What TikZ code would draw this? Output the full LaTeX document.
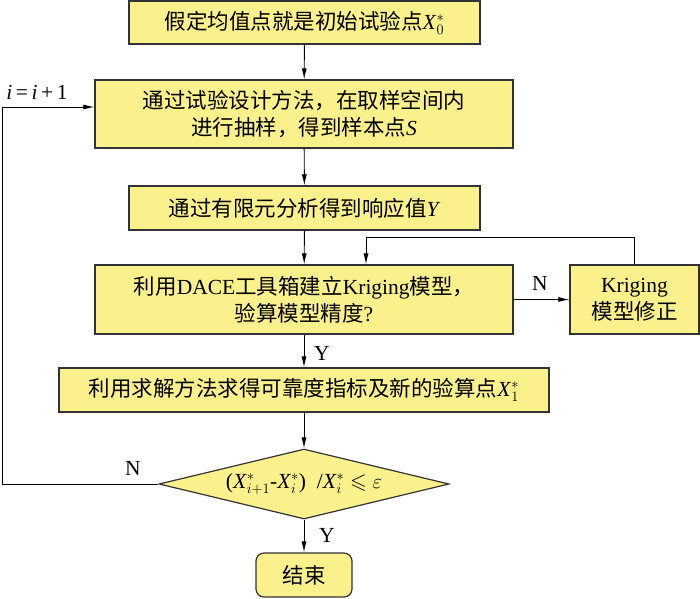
\documentclass[tikz,border=0pt]{standalone}
\usepackage{fontspec}
\usepackage{amssymb}
\setmainfont{Liberation Serif}
\newfontfamily\cjk{Noto Sans CJK SC}
\usetikzlibrary{shapes.geometric,arrows.meta}
\definecolor{boxyellow}{RGB}{250,240,140}
\newcommand{\zh}[1]{{\cjk #1}}
\begin{document}
\begin{tikzpicture}[x=1pt, y=-1pt, font=\fontsize{21.5}{27}\selectfont,
		block/.style={draw=black!80, line width=1.2pt, fill=boxyellow, inner sep=2pt, align=center},
		decide/.style={draw=black!80, line width=1.2pt, fill=boxyellow, diamond, aspect=4.1, inner sep=0pt, minimum width=290pt, minimum height=70pt},
		flow/.style={line width=0.9pt, -{Latex[length=11pt,width=5pt]}}]
		\useasboundingbox (0,0) rectangle (700,598);
		\node[block, minimum width=351pt, minimum height=43pt] (Assume) at (304.5,22.5) {\zh{假定均值点就是初始试验点}\textit{X}$_0^*$};
		\node[block, minimum width=418pt, minimum height=68pt] (Sample) at (304,114) {\zh{通过试验设计方法，在取样空间内}\\\zh{进行抽样，得到样本点}\textit{S}};
		\node[block, minimum width=351pt, minimum height=44pt] (FEA) at (304.5,208) {\zh{通过有限元分析得到响应值}\textit{Y}};
		\node[block, minimum width=418pt, minimum height=69pt] (Model) at (304,299.5) {\zh{利用}DACE\zh{工具箱建立}Kriging\zh{模型，}\\\zh{验算模型精度}?};
		\node[block, minimum width=129pt, minimum height=69pt] (Fix) at (634.5,299.5) {Kriging\\\zh{模型修正}};
		\node[block, minimum width=490pt, minimum height=44pt] (Solve) at (304,390) {\zh{利用求解方法求得可靠度指标及新的验算点}\textit{X}$_1^*$};
		\node[decide] (Check) at (304,484) {(\textit{X}$^*_{i+1}$-\textit{X}$^*_i$)\enspace/\textit{X}$^*_i\leqslant\varepsilon$};
		\node[block, rounded corners=8pt, minimum width=96pt, minimum height=44pt] (End) at (304,575) {\zh{结束}};
		% labels
		\node (Inc) at (37,92) {\textit{i}\,=\,\textit{i}\,+\,1};
		\node (N1) at (540,283) {N};
		\node (Y1) at (322,353) {Y};
		\node (N2) at (133,468) {N};
		\node (Y2) at (327,535) {Y};
		\coordinate (Top) at (366,237);
		\coordinate (Loop) at (2,107);
		% Arrows
		\draw[flow] (Assume) -- (Sample);
		\draw[flow] (Sample) -- (FEA);
		\draw[flow] (FEA) -- (Model);
		\draw[flow] (Model) -- (Fix);
		\draw[flow] (Fix.north) |- (Top) -- (Top |- Model.north);
		\draw[flow] (Model) -- (Solve);
		\draw[flow] (Solve) -- (Check);
		\draw[flow] (Check) -- (End);
		\draw[flow] (Check.west) -| (Loop) -- (Loop -| Sample.west);
	\end{tikzpicture}
\end{document}
